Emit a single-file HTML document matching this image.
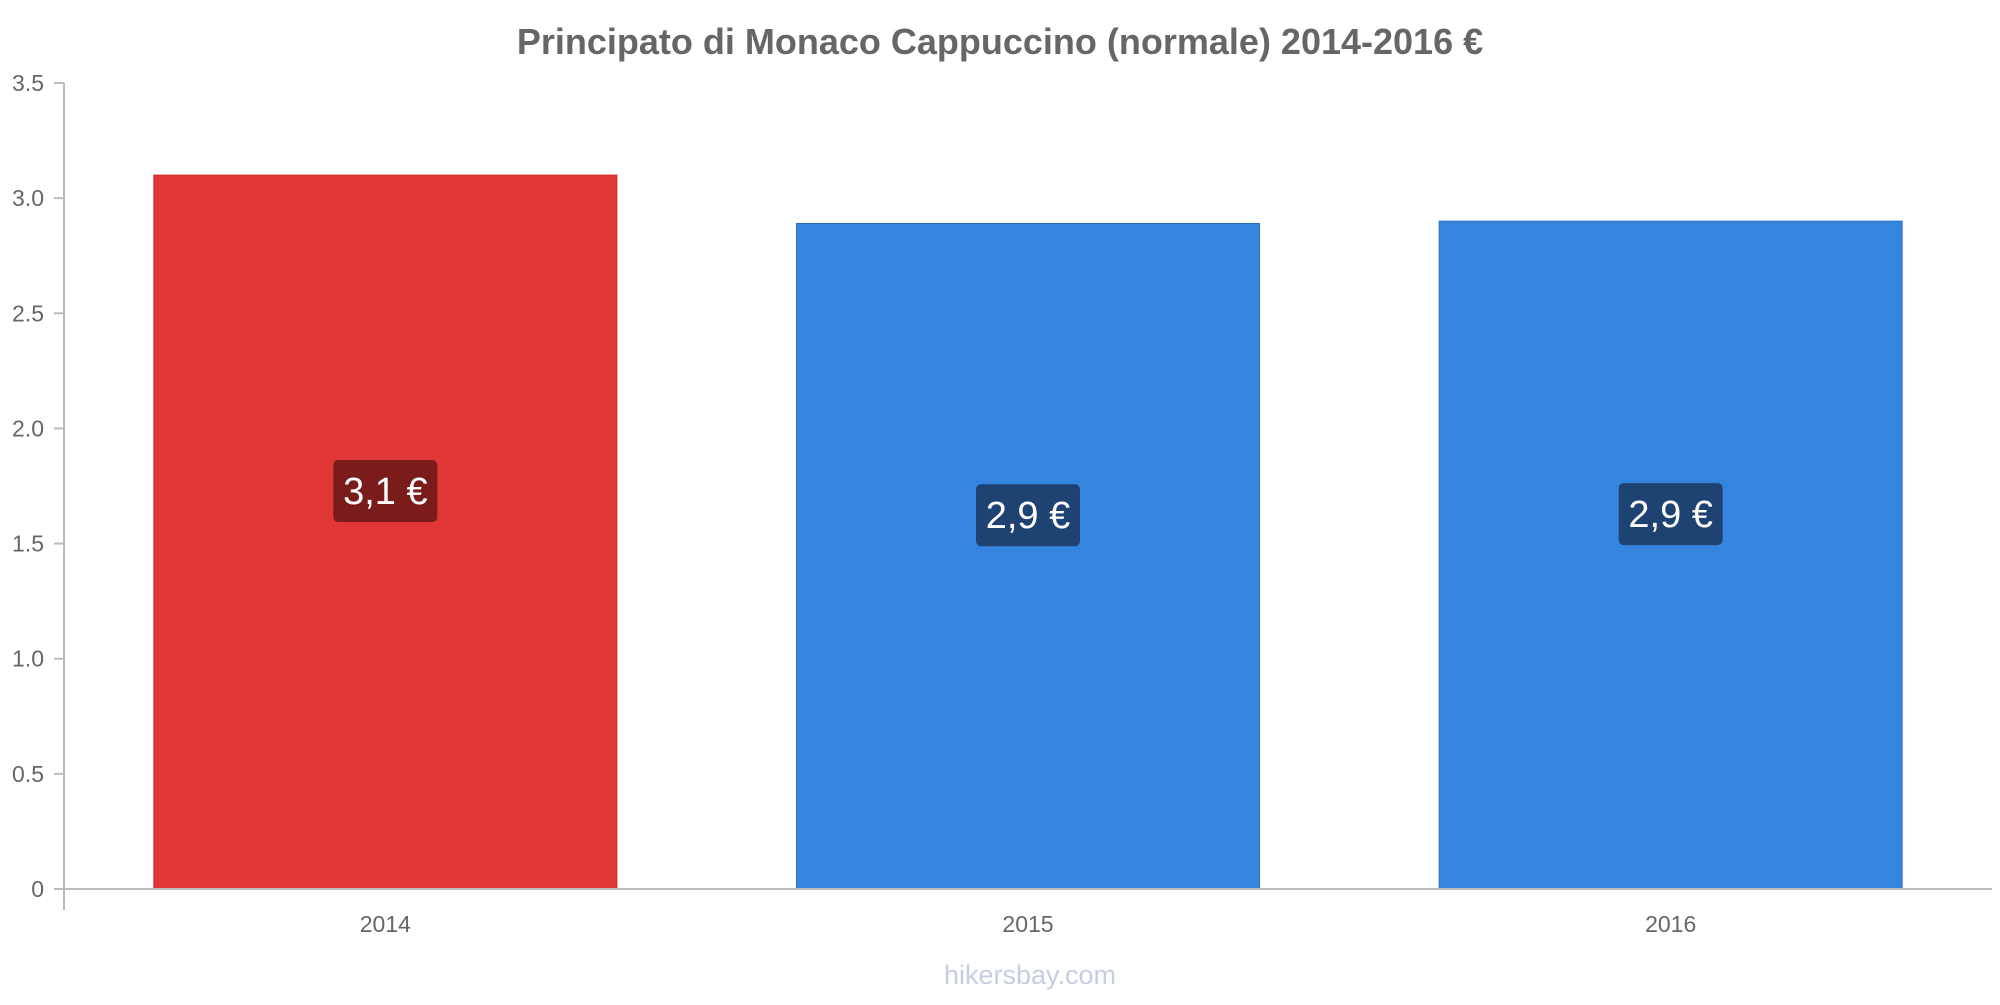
<!DOCTYPE html>
<html><head><meta charset="utf-8"><style>
body{margin:0;background:#fff;}
svg text{font-family:"Liberation Sans",sans-serif;}
</style></head><body>
<svg id="chart" width="2000" height="1000" xmlns="http://www.w3.org/2000/svg">
<text x="1000" y="54" text-anchor="middle" font-size="36" font-weight="bold" fill="#666">Principato di Monaco Cappuccino (normale) 2014-2016 €</text>
<g id="yaxis"></g>
<g id="bars"></g>
<line x1="64" y1="83" x2="64" y2="910" stroke="#bbb" stroke-width="2"/>
<line x1="54" y1="889" x2="1992" y2="889" stroke="#bbb" stroke-width="2"/>
<text x="1030" y="984" text-anchor="middle" font-size="27" fill="#c5cde0">hikersbay.com</text>
</svg>
<script>
const categories=["2014","2015","2016"];
const values=[3.1,2.89,2.9];
const valueLabels=["3,1 €","2,9 €","2,9 €"];
const yTicks=[0,0.5,1,1.5,2,2.5,3,3.5];
const yTickLabels=["0","0.5","1.0","1.5","2.0","2.5","3.0","3.5"];
const NS="http://www.w3.org/2000/svg";
const y0=889,yTop=83,yMax=3.5;
function y(v){return y0-(v/yMax)*(y0-yTop);}
const plotL=64,plotR=1992,band=(plotR-plotL)/categories.length,barW=463;
function xc(i){return plotL+band*(i+0.5);}
function mk(t,a,p){const e=document.createElementNS(NS,t);for(const k in a)e.setAttribute(k,a[k]);p.appendChild(e);return e;}
const ya=document.getElementById('yaxis');
yTicks.forEach((t,i)=>{
 const l=mk('line',{x1:54,x2:64,y1:y(t),y2:y(t),stroke:'#bbb','stroke-width':2},ya);
 
 
 const tx=mk('text',{x:44,y:y(t)+8,'text-anchor':'end','font-size':23,fill:'#666'},ya);
 tx.textContent=yTickLabels[i];
 
 
});
const bg=document.getElementById('bars');
categories.forEach((c,i)=>{
 const red=i===0;
 const cx=xc(i),top=y(values[i]);
 const r=mk('rect',{x:cx-barW/2,y:top,width:barW,height:y0-top,fill:red?'#e13636':'#3584de',stroke:red?'#c92a2a':'#2a6fc0','stroke-width':1},bg);
 
 
 const ly=(top+y0)/2-41;
 const b=mk('rect',{x:cx-52,y:ly-31,width:104,height:62,rx:5,fill:red?'#7a1c1c':'#1e4272'},bg);
 
 
 const t=mk('text',{x:cx,y:ly+13,'text-anchor':'middle','font-size':38,fill:'#fff'},bg);
 t.textContent=valueLabels[i];
 
 
 const xl=mk('text',{x:cx,y:932,'text-anchor':'middle','font-size':23,fill:'#666'},bg);
 xl.textContent=c;
 
 
});
</script>
</body></html>
